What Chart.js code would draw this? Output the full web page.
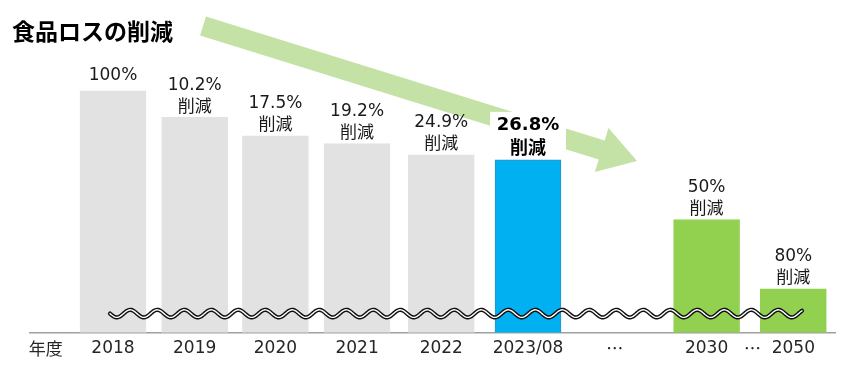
<!DOCTYPE html>
<html>
<head>
<meta charset="utf-8">
<script src="https://cdn.jsdelivr.net/npm/chart.js@4"></script>
<style>
  body { margin: 0; background: #fff; }
  #wrap { width: 850px; height: 371px; }
</style>
</head>
<body>
<div id="wrap"><canvas id="lossChart"></canvas></div>
<script>
// years shown as bars, and where they sit along the axis (in slot units)
const years = ['2018', '2019', '2020', '2021', '2022', '2023/08', '2030', '2050'];
const yearPos = [0, 0.96, 1.91, 2.87, 3.86, 4.88, 6.98, 8.0];
// bar heights (food loss left, % of 2018, axis is cut)
const remaining = [100, 89.8, 82.5, 79.5, 75.1, 73.2, 50, 23];
// text above each bar
const rateLabels = ['100%', '10.2%', '17.5%', '19.2%', '24.9%', '26.8%', '50%', '80%'];
// axis labels, including the gaps
const tickLabels = ['年度', '2018', '2019', '2020', '2021', '2022', '2023/08', '…', '2030', '…', '2050'];
const tickPos = [-0.79, 0, 0.96, 1.91, 2.87, 3.86, 4.88, 5.9, 6.98, 7.52, 8.0];

const barColors = ['#e3e2e2', '#e3e2e2', '#e3e2e2', '#e3e2e2', '#e3e2e2', '#00b0f0', '#92d050', '#92d050'];
const barBorders = ['#e3e2e2', '#e3e2e2', '#e3e2e2', '#e3e2e2', '#e3e2e2', '#2e90c8', '#92d050', '#92d050'];

const latin = '"DejaVu Sans", "Noto Sans CJK JP", sans-serif';
const cjk = '"Noto Sans CJK JP", sans-serif';

// big light green arrow behind the bars
const arrowPlugin = {
  id: 'arrow',
  beforeDatasetsDraw(chart) {
    const ctx = chart.ctx;
    const tail = { x: 203, y: 26 }, tip = { x: 637, y: 161 };
    const dx = tip.x - tail.x, dy = tip.y - tail.y;
    const len = Math.hypot(dx, dy);
    const ux = dx / len, uy = dy / len, nx = -uy, ny = ux;
    const shaft = 10, head = 23, headLen = 37;
    const bx = tip.x - headLen * ux, by = tip.y - headLen * uy;
    ctx.save();
    ctx.fillStyle = '#c5e2a6';
    ctx.beginPath();
    ctx.moveTo(tail.x - shaft * nx, tail.y - shaft * ny);
    ctx.lineTo(bx - shaft * nx, by - shaft * ny);
    ctx.lineTo(bx - head * nx, by - head * ny);
    ctx.lineTo(tip.x, tip.y);
    ctx.lineTo(bx + head * nx, by + head * ny);
    ctx.lineTo(bx + shaft * nx, by + shaft * ny);
    ctx.lineTo(tail.x + shaft * nx, tail.y + shaft * ny);
    ctx.closePath();
    ctx.fill();
    ctx.restore();
  }
};

// labels over the bars + wavy "axis cut" line
const labelPlugin = {
  id: 'labels',
  afterDatasetsDraw(chart) {
    const ctx = chart.ctx;
    const area = chart.chartArea;

    // wave
    const wy = area.bottom - 19;
    const drawWave = () => {
      ctx.beginPath();
      for (let x = 110; x <= 802; x++) {
        const y = wy + 3.8 * Math.sin((x - 110) / 27 * Math.PI * 2);
        if (x === 110) ctx.moveTo(x, y); else ctx.lineTo(x, y);
      }
      ctx.stroke();
    };
    ctx.save();
    ctx.lineCap = 'round';
    ctx.strokeStyle = '#111';
    ctx.lineWidth = 4.2;
    drawWave();
    ctx.strokeStyle = '#fff';
    ctx.lineWidth = 1.4;
    drawWave();
    ctx.restore();

    const meta = chart.getDatasetMeta(0);
    ctx.save();
    ctx.textAlign = 'center';
    ctx.textBaseline = 'middle';
    meta.data.forEach((bar, i) => {
      const x = bar.x, top = bar.y;
      if (i === 0) {
        ctx.fillStyle = '#1a1a1a';
        ctx.font = '17px ' + latin;
        ctx.fillText(rateLabels[i], x, top - 15);
        return;
      }
      if (i === 5) {
        ctx.fillStyle = '#fff';
        ctx.fillRect(x - 38, top - 48, 76, 47);
        ctx.fillStyle = '#000';
        ctx.font = 'bold 18px ' + latin;
        ctx.fillText(rateLabels[i], x, top - 34);
        ctx.font = 'bold 18px ' + cjk;
        ctx.fillText('削減', x, top - 13);
        return;
      }
      ctx.fillStyle = '#1a1a1a';
      ctx.font = '17px ' + latin;
      ctx.fillText(rateLabels[i], x, top - 32);
      ctx.font = '17px ' + cjk;
      ctx.fillText('削減', x, top - 12);
    });
    ctx.restore();
  }
};

new Chart(document.getElementById('lossChart'), {
  type: 'bar',
  data: {
    datasets: [{
      data: years.map((y, i) => ({ x: yearPos[i], y: remaining[i] })),
      backgroundColor: barColors,
      borderColor: barBorders,
      borderWidth: 1,
      barThickness: 66
    }]
  },
  options: {
    responsive: true,
    maintainAspectRatio: false,
    animation: false,
    layout: { padding: { left: 12, right: 15, top: 0, bottom: 6 } },
    plugins: {
      legend: { display: false },
      tooltip: { enabled: false },
      title: {
        display: true,
        text: '食品ロスの削減',
        align: 'start',
        color: '#000',
        font: { family: cjk, size: 23, weight: 'bold' },
        padding: { top: 17, bottom: 8 }
      }
    },
    scales: {
      x: {
        type: 'linear',
        offset: false,
        min: -0.976,
        max: 8.49,
        grid: { display: false, drawTicks: false },
        border: { display: true, color: '#a0a0a0', width: 1.5 },
        afterBuildTicks(scale) {
          scale.ticks = tickPos.map(v => ({ value: v }));
        },
        ticks: {
          autoSkip: false,
          maxRotation: 0,
          padding: 6,
          color: '#262626',
          font: (c) => ({ family: tickLabels[c.index] === '…' || c.index === 0 ? cjk : latin, size: 17 }),
          callback: (v, i) => tickLabels[i]
        }
      },
      y: {
        min: 6,
        max: 114.9,
        grid: { display: false },
        border: { display: false },
        ticks: { display: false },
        afterFit(scale) { scale.width = 18; }
      }
    }
  },
  plugins: [arrowPlugin, labelPlugin]
});
</script>
</body>
</html>
